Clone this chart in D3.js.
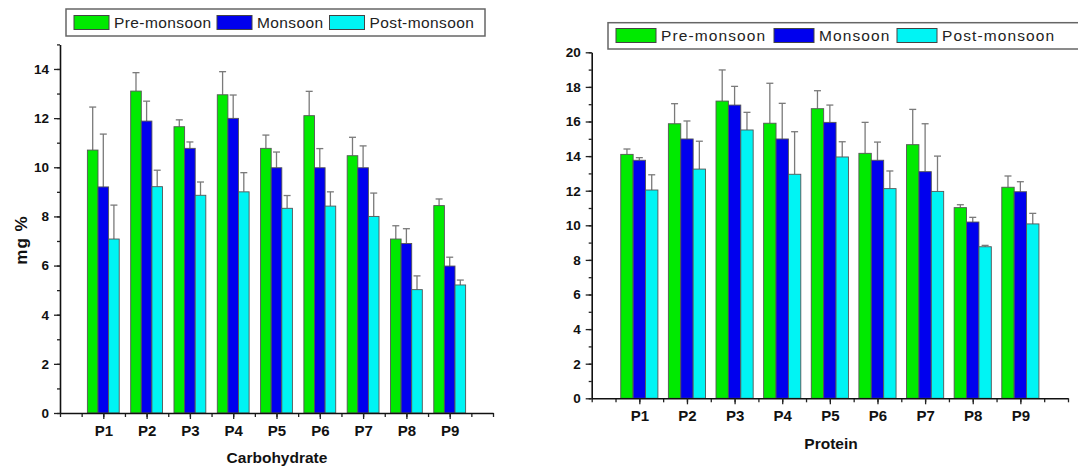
<!DOCTYPE html>
<html>
<head>
<meta charset="utf-8">
<script src="https://cdnjs.cloudflare.com/ajax/libs/d3/7.8.5/d3.min.js"></script>
<style>
  body { margin: 0; background: #fff; }
  svg { display: block; font-family: "Liberation Sans", Arial, sans-serif; }
</style>
</head>
<body>
<div id="chart"></div>
<script>
// categories and seasons
var categories = ["P1", "P2", "P3", "P4", "P5", "P6", "P7", "P8", "P9"];
var seasons = ["Pre-monsoon", "Monsoon", "Post-monsoon"];
var season_color = ["#00ea00", "#0000ee", "#00f4f4"];

// carbohydrate (mg %)
var carbPre = [10.7, 13.1, 11.65, 12.95, 10.77, 12.1, 10.47, 7.08, 8.44];
var carbPreErr = [1.75, 0.75, 0.28, 0.94, 0.54, 0.99, 0.75, 0.54, 0.27];
var carbMon = [9.2, 11.88, 10.77, 11.99, 9.98, 9.98, 9.98, 6.9, 5.98];
var carbMonErr = [2.15, 0.81, 0.26, 0.95, 0.64, 0.78, 0.89, 0.6, 0.36];
var carbPost = [7.08, 9.21, 8.86, 9.0, 8.33, 8.42, 8.0, 5.02, 5.21];
var carbPostErr = [1.38, 0.67, 0.54, 0.78, 0.52, 0.58, 0.95, 0.56, 0.2];

// protein
var protPre = [14.1, 15.87, 17.18, 15.9, 16.74, 14.16, 14.66, 11.02, 12.2];
var protPreErr = [0.31, 1.16, 1.8, 2.31, 1.04, 1.79, 2.04, 0.17, 0.65];
var protMon = [13.76, 14.99, 16.95, 14.99, 15.95, 13.76, 13.1, 10.19, 11.94];
var protMonErr = [0.15, 1.04, 1.08, 2.06, 1.0, 1.05, 2.77, 0.27, 0.58];
var protPost = [12.04, 13.25, 15.51, 12.95, 13.95, 12.12, 11.96, 8.76, 10.08];
var protPostErr = [0.88, 1.61, 1.02, 2.46, 0.88, 1.02, 2.04, 0.08, 0.61];

var width = 1078;
var height = 468;

var svg = d3.select("#chart").append("svg")
    .attr("width", width)
    .attr("height", height);

function draw_panel(cfg) {
    var g = svg.append("g").attr("class", "panel");

    var x = d3.scaleLinear().domain([0, 10]).range([cfg.left, cfg.right]);
    var y = d3.scaleLinear().domain([0, cfg.ymax]).range([cfg.bottom, cfg.top]);
    var unit = x(1) - x(0);
    var bw = cfg.barUnits * unit;

    var series = [cfg.pre, cfg.mon, cfg.post];
    var errs = [cfg.preErr, cfg.monErr, cfg.postErr];

    // bars + error bars
    series.forEach(function (vals, si) {
        var sg = g.append("g").attr("class", "series");
        var data = vals.map(function (v, i) {
            return { v: v, e: errs[si][i], cx: x(i + 1) + (si - 1) * bw };
        });

        // error line (upper only)
        sg.selectAll(".err").data(data).enter().append("line")
            .attr("x1", function (d) { return d.cx; })
            .attr("x2", function (d) { return d.cx; })
            .attr("y1", function (d) { return y(d.v); })
            .attr("y2", function (d) { return y(d.v + d.e); })
            .attr("stroke", "#7a7a7a")
            .attr("stroke-width", 1.3);
        sg.selectAll(".cap").data(data).enter().append("line")
            .attr("x1", function (d) { return d.cx - 3.5; })
            .attr("x2", function (d) { return d.cx + 3.5; })
            .attr("y1", function (d) { return y(d.v + d.e); })
            .attr("y2", function (d) { return y(d.v + d.e); })
            .attr("stroke", "#7a7a7a")
            .attr("stroke-width", 1.3);

        sg.selectAll(".bar").data(data).enter().append("rect")
            .attr("class", "bar")
            .attr("x", function (d) { return d.cx - bw / 2; })
            .attr("y", function (d) { return y(d.v); })
            .attr("width", bw)
            .attr("height", function (d) { return y(0) - y(d.v); })
            .attr("fill", season_color[si])
            .attr("stroke", "#555")
            .attr("stroke-width", 0.9);
    });

    // y axis
    var yMinor = d3.range(0, cfg.ymax + 1, 1);
    var yMajor = d3.range(0, cfg.ymax + 1, 2);
    g.append("g")
        .attr("transform", "translate(" + cfg.left + ",0)")
        .call(d3.axisLeft(y).tickValues(yMinor).tickSize(3).tickFormat(""))
        .call(function (a) { a.select(".domain").remove(); })
        .selectAll("line").attr("stroke", "#222").attr("stroke-width", 1.3);
    var ya = g.append("g")
        .attr("transform", "translate(" + cfg.left + ",0)")
        .call(d3.axisLeft(y).tickValues(yMajor).tickSize(6).tickSizeOuter(0).tickPadding(5).tickFormat(d3.format("d")));
    ya.select(".domain").attr("stroke", "#111").attr("stroke-width", 1.6);
    ya.selectAll("line").attr("stroke", "#222").attr("stroke-width", 1.3);
    ya.selectAll("text")
        .attr("font-size", 13.5)
        .attr("font-weight", "bold")
        .attr("fill", "#111")
        .attr("font-family", "'Liberation Sans', Arial, sans-serif");

    // x axis
    var xMinor = d3.range(0, 10.01, 0.5);
    g.append("g")
        .attr("transform", "translate(0," + cfg.bottom + ")")
        .call(d3.axisBottom(x).tickValues(xMinor).tickSize(4).tickFormat(""))
        .call(function (a) { a.select(".domain").remove(); })
        .selectAll("line").attr("stroke", "#222").attr("stroke-width", 1.3);
    var xa = g.append("g")
        .attr("transform", "translate(0," + cfg.bottom + ")")
        .call(d3.axisBottom(x).tickValues(d3.range(1, 10)).tickSize(6).tickSizeOuter(0).tickPadding(6)
            .tickFormat(function (d) { return categories[d - 1]; }));
    xa.select(".domain").attr("stroke", "#111").attr("stroke-width", 1.6);
    xa.selectAll("line").attr("stroke", "#222").attr("stroke-width", 1.3);
    xa.selectAll("text")
        .attr("font-size", 15)
        .attr("font-weight", "bold")
        .attr("fill", "#111")
        .attr("font-family", "'Liberation Sans', Arial, sans-serif");

    // x title
    g.append("text")
        .attr("x", cfg.titleX)
        .attr("y", cfg.titleY)
        .attr("text-anchor", "middle")
        .attr("font-size", cfg.titleFs)
        .attr("font-weight", "bold")
        .attr("fill", "#111")
        .text(cfg.title);

    // legend
    var lg = g.append("g").attr("class", "legend");
    lg.append("rect")
        .attr("x", cfg.legend.x)
        .attr("y", cfg.legend.y)
        .attr("width", cfg.legend.w)
        .attr("height", cfg.legend.h)
        .attr("fill", "#fff")
        .attr("stroke", "#666")
        .attr("stroke-width", 1.5);
    seasons.forEach(function (s, si) {
        var sx = cfg.legend.items[si];
        lg.append("rect")
            .attr("x", sx)
            .attr("y", cfg.legend.y + cfg.legend.swY)
            .attr("width", cfg.legend.swW)
            .attr("height", cfg.legend.swH)
            .attr("fill", season_color[si])
            .attr("stroke", "#444")
            .attr("stroke-width", 1);
        lg.append("text")
            .attr("x", sx + cfg.legend.swW + 5)
            .attr("y", cfg.legend.y + cfg.legend.h / 2)
            .attr("dy", "0.35em")
            .attr("font-size", cfg.legend.fs)
            .attr("letter-spacing", cfg.legend.ls)
            .attr("fill", "#222")
            .text(s);
    });
}

draw_panel({
    left: 60, right: 493, top: 44.4, bottom: 413, ymax: 15, barUnits: 0.245,
    pre: carbPre, preErr: carbPreErr, mon: carbMon, monErr: carbMonErr, post: carbPost, postErr: carbPostErr,
    title: "Carbohydrate", titleX: 277, titleY: 463, titleFs: 15.5,
    legend: { x: 66, y: 9, w: 419, h: 27, swY: 6.5, swW: 35, swH: 14, fs: 15.5, ls: 0.4,
        items: [74, 217, 329.5] }
});

draw_panel({
    left: 591.7, right: 1068, top: 52.3, bottom: 398.3, ymax: 20, barUnits: 0.26,
    pre: protPre, preErr: protPreErr, mon: protMon, monErr: protMonErr, post: protPost, postErr: protPostErr,
    title: "Protein", titleX: 831, titleY: 449, titleFs: 15.5,
    legend: { x: 608, y: 22.7, w: 480, h: 26.3, swY: 5.8, swW: 40, swH: 14, fs: 15.5, ls: 1.1,
        items: [616, 774, 897] }
});

// y title (left panel only)
svg.append("text")
    .attr("transform", "translate(27,240) rotate(-90)")
    .attr("text-anchor", "middle")
    .attr("font-size", 17)
    .attr("font-weight", "bold")
    .attr("letter-spacing", 1)
    .attr("fill", "#111")
    .text("mg %");
</script>
</body>
</html>
